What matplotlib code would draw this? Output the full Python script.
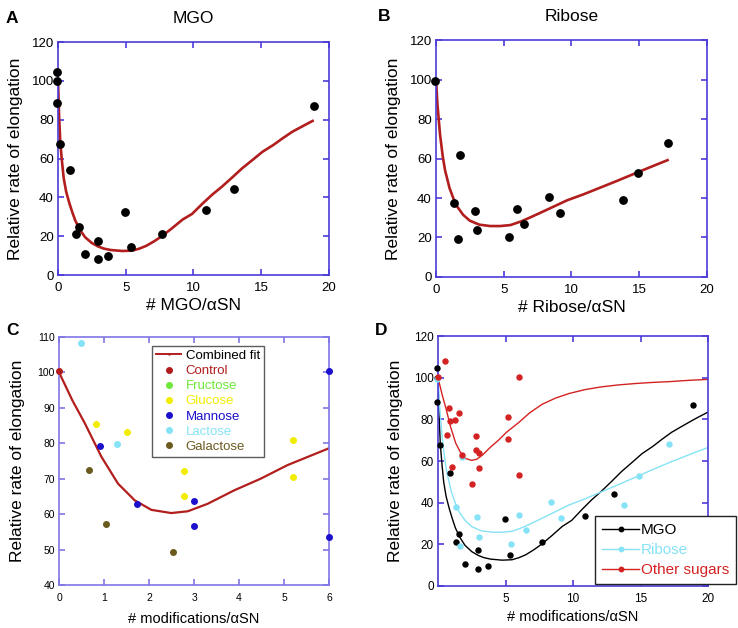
import matplotlib
matplotlib.use("Agg")
import matplotlib.pyplot as plt
import numpy as np
from matplotlib.lines import Line2D

plt.rcParams['font.family'] = ['Liberation Sans', 'DejaVu Sans']

# ---------------- data ----------------
mgo_x = [-0.07, -0.07, -0.07, 0.17, 0.91, 1.53, 1.33, 1.98, 2.96, 2.96, 3.70, 4.94, 5.36, 7.70, 10.9, 13.0, 18.9]
mgo_y = [104.6, 99.8, 88.4, 67.5, 54.1, 25.0, 20.9, 10.6, 17.3, 8.2, 9.8, 32.4, 14.7, 20.9, 33.4, 44.2, 87.0]

rib_x = [-0.07, 1.36, 1.60, 1.78, 2.89, 3.04, 5.41, 6.00, 6.49, 8.37, 9.14, 13.8, 14.9, 17.1]
rib_y = [99.4, 37.7, 19.1, 62.0, 33.3, 23.7, 20.1, 34.3, 26.7, 40.4, 32.6, 38.9, 52.9, 68.1]

mgo_fit_x = [0, 0.08, 0.17, 0.3, 0.42, 0.6, 0.84, 1.05, 1.28, 1.6, 2.0, 2.5, 2.97, 3.4, 3.9, 4.74, 5.48, 6.0, 6.5, 7.1, 7.7, 8.4, 9.2, 9.9, 10.7, 11.4, 12.1, 12.9, 13.6, 14.4, 15.1, 15.9, 16.6, 17.3, 18.1, 18.8, 19.4, 20.0]
mgo_fit_y = [100, 82, 68, 58, 50, 43, 37, 32.5, 28, 23.5, 19.5, 16.5, 14.7, 13.6, 12.9, 12.4, 12.6, 13.6, 15.0, 17.4, 20.2, 24.0, 28.6, 31.5, 37.0, 41.5, 45.5, 50.5, 55.0, 59.5, 63.5, 67.0, 70.5, 73.8, 76.8, 79.4, 81.5, 83.5]

rib_fit_x = [0, 0.1, 0.3, 0.5, 0.67, 1.0, 1.3, 1.53, 2.0, 2.5, 3.2, 4.0, 4.74, 5.5, 6.3, 7.0, 7.7, 8.7, 9.7, 10.9, 12.1, 13.3, 14.6, 15.8, 17.1, 18.5, 20.0]
rib_fit_y = [100, 88, 72, 61, 54, 45, 39.5, 36, 31.5, 28.5, 26.5, 25.8, 25.8, 26.3, 28.2, 30.3, 32.5, 35.7, 38.9, 41.9, 45.2, 48.5, 52.2, 55.6, 59.2, 62.8, 66.5]

sug_fit_x = [0, 0.3, 0.57, 0.94, 1.31, 1.68, 2.05, 2.49, 2.86, 3.3, 3.89, 4.48, 5.07, 6.0, 6.8, 7.7, 8.7, 9.7, 10.9, 12.1, 13.3, 14.6, 15.8, 17.1, 18.5, 20.0]
sug_fit_y = [100, 92, 85.7, 76.2, 68.6, 63.9, 61.2, 60.3, 60.8, 62.9, 66.7, 70.0, 73.8, 78.6, 83.2, 87.2, 90.2, 92.4, 94.3, 95.6, 96.5, 97.2, 97.7, 98.1, 98.7, 99.2]

sugar_names = ['Control', 'Fructose', 'Glucose', 'Mannose', 'Lactose', 'Galactose']
sugar_colors = ['#b01c1c', '#6ee83a', '#f2ec00', '#1c10cc', '#86e2f6', '#6b5a1e']
control_x = [0.0]
control_y = [100.3]
fructose_x = []
fructose_y = []
glucose_x = [0.83, 1.52, 2.78, 2.78, 5.2, 5.2]
glucose_y = [85.3, 83.1, 72.1, 65.2, 80.9, 70.4]
mannose_x = [0.91, 1.74, 3.0, 3.0, 6.0, 6.0]
mannose_y = [79.3, 62.9, 63.8, 56.7, 100.3, 53.4]
lactose_x = [0.49, 1.29]
lactose_y = [108.2, 79.7]
galactose_x = [0.67, 1.04, 2.53]
galactose_y = [72.4, 57.1, 49.2]
sugar_x = [control_x, fructose_x, glucose_x, mannose_x, lactose_x, galactose_x]
sugar_y = [control_y, fructose_y, glucose_y, mannose_y, lactose_y, galactose_y]

# ---------------- style ----------------
SPINE = '#4b3cd8'
SPINE_C = '#7f76e4'
FIT_RED = '#b21e1e'


def style_axes(ax, color, labelsize=8.5, xpad=4):
    for s in ax.spines.values():
        s.set_color(color)
        s.set_linewidth(1.2)
    ax.tick_params(direction='in', which='both', top=True, right=True,
                   color=color, length=4.5, width=1.2, labelsize=labelsize,
                   pad=3)
    ax.tick_params(axis='x', pad=xpad)


fig = plt.figure(figsize=(7.38, 6.28), dpi=100)

# ---------------- A ----------------
axA = fig.add_axes([0.0786, 0.562, 0.367, 0.371])
style_axes(axA, SPINE, labelsize=9.5, xpad=5)
mx = np.array(mgo_fit_x)
my = np.array(mgo_fit_y)
m = mx <= 18.8
axA.plot(mx[m], my[m], color=FIT_RED, lw=1.9, zorder=2)
axA.plot(mgo_x, mgo_y, 'o', color='black', ms=5.3, clip_on=False, zorder=3)
axA.set_xlim(0, 20)
axA.set_ylim(0, 120)
axA.set_xticks([0, 5, 10, 15, 20])
axA.set_yticks(range(0, 121, 20))
axA.set_xlabel('# MGO/αSN', fontsize=12.5, labelpad=3)
axA.set_ylabel('Relative rate of elongation', fontsize=12.5, labelpad=6)
axA.set_title('MGO', fontsize=12.5, pad=14)

# ---------------- B ----------------
axB = fig.add_axes([0.5908, 0.559, 0.367, 0.377])
style_axes(axB, SPINE, labelsize=9.5, xpad=5)
rx = np.array(rib_fit_x)
ry = np.array(rib_fit_y)
m = rx <= 17.1
axB.plot(rx[m], ry[m], color=FIT_RED, lw=1.9, zorder=2)
axB.plot(rib_x, rib_y, 'o', color='black', ms=5.3, clip_on=False, zorder=3)
axB.set_xlim(0, 20)
axB.set_ylim(0, 120)
axB.set_xticks([0, 5, 10, 15, 20])
axB.set_yticks(range(0, 121, 20))
axB.set_xlabel('# Ribose/αSN', fontsize=12.5, labelpad=3)
axB.set_ylabel('Relative rate of elongation', fontsize=12.5, labelpad=6)
axB.set_title('Ribose', fontsize=12.5, pad=14)

# ---------------- C ----------------
axC = fig.add_axes([0.080, 0.0685, 0.366, 0.395])
style_axes(axC, SPINE_C, labelsize=7.5, xpad=6)
sx = np.array(sug_fit_x)
sy = np.array(sug_fit_y)
m = sx <= 6.0
axC.plot(sx[m], sy[m], color=FIT_RED, lw=1.6, zorder=2, label='Combined fit')
for name, col, xs, ys in zip(sugar_names, sugar_colors, sugar_x, sugar_y):
    axC.plot(xs, ys, 'o', color=col, ms=4.0, clip_on=False, zorder=3, label=name)
axC.set_xlim(0, 6)
axC.set_ylim(40, 110)
axC.set_xticks(range(0, 7))
axC.set_yticks(range(40, 111, 10))
axC.set_xlabel('# modifications/αSN', fontsize=10.5, labelpad=6)
axC.set_ylabel('Relative rate of elongation', fontsize=12.5, labelpad=9)
handles = [Line2D([0], [0], color=FIT_RED, lw=1.4, marker='.', ms=1.5)]
for col in sugar_colors:
    handles.append(Line2D([0], [0], color=col, lw=0, marker='o', ms=4))
legC = axC.legend(handles, ['Combined fit'] + sugar_names, loc='upper left',
                  bbox_to_anchor=(0.345, 0.964), borderaxespad=0,
                  fontsize=9.5, frameon=True,
                  fancybox=False, edgecolor='#333333', handlelength=1.9,
                  handletextpad=0.35, borderpad=0.3, labelspacing=0.22)
legC.get_frame().set_linewidth(1.0)
for txt, col in zip(legC.get_texts(), ['black'] + sugar_colors):
    txt.set_color(col)

# ---------------- D ----------------
axD = fig.add_axes([0.5935, 0.0669, 0.366, 0.398])
style_axes(axD, SPINE, labelsize=8.5, xpad=5)
axD.plot(mgo_fit_x, mgo_fit_y, color='black', lw=1.0, zorder=2)
axD.plot(rib_fit_x, rib_fit_y, color='#86e2f6', lw=1.0, zorder=2)
axD.plot(sug_fit_x, sug_fit_y, color='#d42222', lw=1.0, zorder=2)
axD.plot(mgo_x, mgo_y, 'o', color='black', ms=3.6, clip_on=False, zorder=3)
axD.plot(rib_x, rib_y, 'o', color='#86e2f6', ms=3.6, clip_on=False, zorder=3)
for xs, ys in zip(sugar_x, sugar_y):
    axD.plot(xs, ys, 'o', color='#d42222', ms=3.6, clip_on=False, zorder=3)
axD.set_xlim(0, 20)
axD.set_ylim(0, 120)
axD.set_xticks([5, 10, 15, 20])
axD.set_yticks(range(0, 121, 20))
axD.set_xlabel('# modifications/αSN', fontsize=10.5, labelpad=4)
axD.set_ylabel('Relative rate of elongation', fontsize=12.5, labelpad=8)
hD = [Line2D([0], [0], color=c, lw=1.0, marker='o', ms=3.2) for c in ['black', '#86e2f6', '#d42222']]
legD = axD.legend(hD, ['MGO', 'Ribose', 'Other sugars'], loc='lower right',
                  bbox_to_anchor=(1.102, 0.008), borderaxespad=0,
                  fontsize=11, frameon=True,
                  fancybox=False, edgecolor='#222222', handlelength=2.4,
                  handletextpad=0.1, borderpad=0.45, labelspacing=0.4,
                  framealpha=1)
legD.get_frame().set_linewidth(1.0)
for txt, col in zip(legD.get_texts(), ['black', '#86e2f6', '#d42222']):
    txt.set_color(col)
legD.set_zorder(5)

# ---------------- panel letters ----------------
for lbl, x, y in [('A', 0.008, 0.982), ('B', 0.512, 0.985), ('C', 0.008, 0.485), ('D', 0.508, 0.485)]:
    fig.text(x, y, lbl, fontsize=12.5, fontweight='bold', va='top', ha='left')

fig.savefig('out.png', dpi=100)
